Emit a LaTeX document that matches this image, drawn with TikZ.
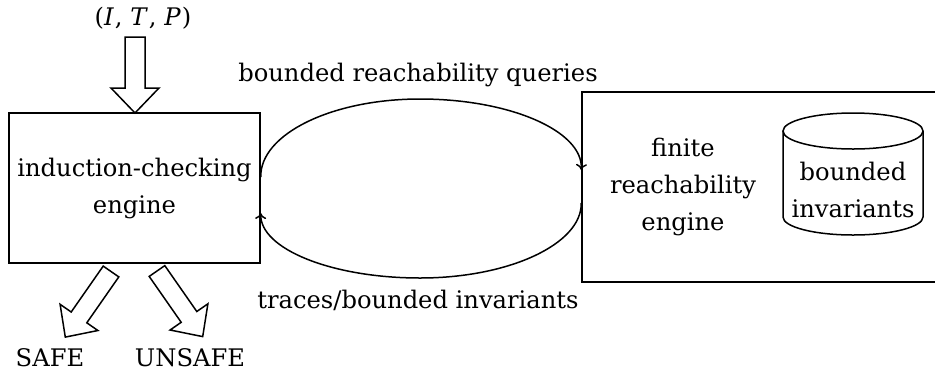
\documentclass[tikz,border=0pt]{standalone}
\usepackage{fontspec}
\setmainfont{DejaVu Serif}
\usetikzlibrary{arrows.meta}
\begin{document}
\begin{tikzpicture}[x=1pt,y=-1pt, line width=1.5pt,
  lbl/.style={font=\fontsize{24.2}{37}\selectfont, inner sep=0pt, align=center},
  box/.style={draw, inner sep=0pt},
  hollow/.style={draw, fill=white, line join=miter},
  flow/.style={-{To[length=6pt,width=11pt]}, line width=1.5pt}]
\clip (0,0) rectangle (935,376);
\useasboundingbox (0,0) rectangle (935,376);
% boxes
\node[box, lbl, minimum width=251pt, minimum height=150pt] (ice) at (134.5,188) {induction-checking\\engine};
\node[box, minimum width=370pt, minimum height=190pt] (fre) at (767,187) {};
\node[lbl] (fretxt) at (683,187) {finite\\reachability\\engine};
% cylinder
\draw (783,131) -- (783,217) arc[start angle=180, end angle=0, x radius=70, y radius=18] -- (923,131);
\draw (853,131) ellipse [x radius=70, y radius=18];
\node[lbl] (cyl) at (853,190) {bounded\\invariants};
% input
\node[lbl] (itp) at (143,18) {(\textit{I}\kern1pt, \textit{T}\kern1pt, \textit{P}\kern1pt)};
\draw[hollow] (125,37) -- (145,37) -- (145,88) -- (159,88) -- (135,113) -- (111,88) -- (125,88) -- cycle;
% outputs
\draw[hollow] (118.8,276.9) -- (86.8,322.8) -- (97.9,330.5) -- (65.3,337.1) -- (60.1,304.3) -- (71.2,312.0) -- (103.2,266.1) -- cycle;
\draw[hollow] (164.8,265.6) -- (196.8,311.5) -- (207.9,303.8) -- (202.7,336.6) -- (170.1,330.0) -- (181.2,322.3) -- (149.2,276.4) -- cycle;
\node[lbl] (safe) at (50,358) {SAFE};
\node[lbl] (unsafe) at (190,358) {UNSAFE};
% arcs
\coordinate (topc) at (420,99);
\coordinate (botc) at (420,278);
\draw[flow] ([yshift=11pt]ice.east) .. controls (260,134) and (332,99) .. (topc)
  .. controls (510,99) and (583,131) .. ([yshift=17pt]fre.west);
\draw[flow] ([yshift=-16pt]fre.west) .. controls (582,244) and (509,278) .. (botc)
  .. controls (332,278) and (260,249) .. ([yshift=-25pt]ice.east);
\node[lbl] (q) at (418,75) {bounded reachability queries};
\node[lbl] (t) at (418,300) {traces/bounded invariants};
\end{tikzpicture}
\end{document}
